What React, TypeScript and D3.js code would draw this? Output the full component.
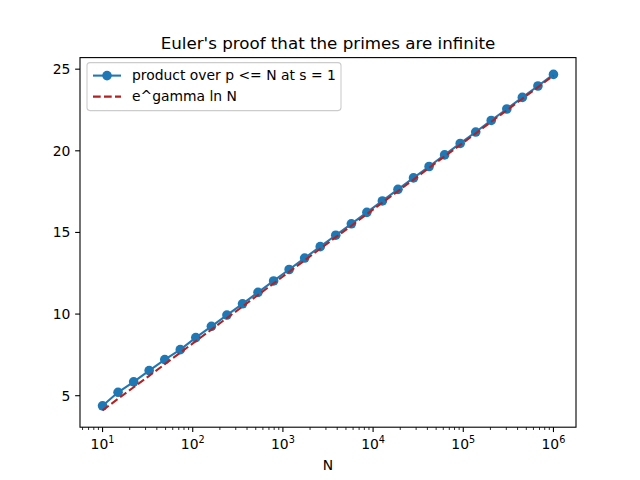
import { useEffect, useRef } from "react";
import * as d3 from "d3";

// N sampled geometrically from 10 to 10^6 (30 points)
const logN: number[] = [
  1.0, 1.172, 1.345, 1.517, 1.69, 1.862, 2.034, 2.207, 2.379, 2.552,
  2.724, 2.897, 3.069, 3.241, 3.414, 3.586, 3.759, 3.931, 4.103, 4.276,
  4.448, 4.621, 4.793, 4.966, 5.138, 5.31, 5.483, 5.655, 5.828, 6.0,
];
const productValues: number[] = [
  4.38, 5.21, 5.85, 6.54, 7.21, 7.82, 8.56, 9.25, 9.94, 10.63,
  11.33, 12.03, 12.73, 13.43, 14.13, 14.83, 15.53, 16.23, 16.93, 17.64,
  18.34, 19.04, 19.75, 20.45, 21.15, 21.86, 22.56, 23.27, 23.97, 24.68,
];
const mertensValues: number[] = [
  4.1, 4.81, 5.52, 6.22, 6.93, 7.64, 8.34, 9.05, 9.76, 10.46,
  11.17, 11.88, 12.59, 13.29, 14.0, 14.71, 15.41, 16.12, 16.83, 17.53,
  18.24, 18.95, 19.66, 20.36, 21.07, 21.78, 22.48, 23.19, 23.9, 24.61,
];
const yTicks: number[] = [5, 10, 15, 20, 25];
const xDecades: number[] = [1, 2, 3, 4, 5, 6];
const seriesLabels: string[] = ["product over p <= N at s = 1", "e^gamma ln N"];

const W = 640;
const H = 480;
const FONT = "DejaVu Sans, sans-serif";
const FS = 13.9;
const R = 4.8;

export default function App() {
  const svgRef = useRef<SVGSVGElement>(null);

  useEffect(() => {
    if (!svgRef.current) return;
    const svg = d3.select(svgRef.current);
    svg.selectAll("*").remove();

    const margin = { top: 57.6, right: 64, bottom: 52.8, left: 80 };
    const iw = W - margin.left - margin.right;
    const ih = H - margin.top - margin.bottom;

    const N = logN.map(l => Math.pow(10, l));
    const x = d3.scaleLog().domain([Math.pow(10, 0.75), Math.pow(10, 6.25)]).range([0, iw]);
    const allY = productValues.concat(mertensValues);
    const yMin = d3.min(allY)!;
    const yMax = d3.max(allY)!;
    const pad = (yMax - yMin) * 0.05;
    const y = d3.scaleLinear().domain([yMin - pad, yMax + pad]).range([ih, 0]);

    svg.append("rect").attr("width", W).attr("height", H).attr("fill", "white");

    const g = svg.append("g").attr("transform", `translate(${margin.left},${margin.top})`);

    // Lines
    const line = d3.line<number>().x((_, i) => x(N[i])).y(d => y(d));

    g.append("path")
      .datum(productValues)
      .attr("d", line)
      .attr("fill", "none")
      .attr("stroke", "#1f77b4")
      .attr("stroke-width", 2.08);

    g.selectAll(".pt")
      .data(productValues)
      .enter().append("circle")
      .attr("cx", (_, i) => x(N[i]))
      .attr("cy", d => y(d))
      .attr("r", R)
      .attr("fill", "#1f77b4");

    g.append("path")
      .datum(mertensValues)
      .attr("d", line)
      .attr("fill", "none")
      .attr("stroke", "#b22222")
      .attr("stroke-width", 2.08)
      .attr("stroke-dasharray", "7.7,3.3");

    // Frame
    g.append("rect")
      .attr("width", iw).attr("height", ih)
      .attr("fill", "none").attr("stroke", "black").attr("stroke-width", 1.1);

    // Y ticks
    yTicks.forEach(t => {
      g.append("line").attr("x1", -4.86).attr("x2", 0).attr("y1", y(t)).attr("y2", y(t))
        .attr("stroke", "black").attr("stroke-width", 1.1);
      g.append("text").attr("x", -9.7).attr("y", y(t)).attr("dy", "0.35em")
        .attr("text-anchor", "end").attr("font-size", FS).attr("font-family", FONT)
        .text(t);
    });

    // X major ticks
    xDecades.forEach(dcd => {
      const px = x(Math.pow(10, dcd));
      g.append("line").attr("x1", px).attr("x2", px).attr("y1", ih).attr("y2", ih + 4.86)
        .attr("stroke", "black").attr("stroke-width", 1.1);
      const t = g.append("text").attr("x", px).attr("y", ih + 22)
        .attr("text-anchor", "middle").attr("font-size", FS).attr("font-family", FONT);
      t.append("tspan").text("10");
      t.append("tspan").attr("dy", -6).attr("font-size", 9.7).text(dcd);
    });

    // X minor ticks
    const [d0, d1] = x.domain();
    for (let e = 0; e <= 6; e++) {
      for (let m = 2; m <= 9; m++) {
        const v = m * Math.pow(10, e);
        if (v < d0 || v > d1) continue;
        const px = x(v);
        g.append("line").attr("x1", px).attr("x2", px).attr("y1", ih).attr("y2", ih + 2.78)
          .attr("stroke", "black").attr("stroke-width", 0.83);
      }
    }

    // Labels
    svg.append("text").attr("x", margin.left + iw / 2).attr("y", margin.top - 8.3)
      .attr("text-anchor", "middle").attr("font-size", 16.7).attr("font-family", FONT)
      .text("Euler's proof that the primes are infinite");
    svg.append("text").attr("x", margin.left + iw / 2).attr("y", H - 10)
      .attr("text-anchor", "middle").attr("font-size", FS).attr("font-family", FONT)
      .text("N");

    // Legend
    const lg = g.append("g").attr("transform", "translate(7,5)");
    lg.append("rect").attr("width", 254).attr("height", 48).attr("rx", 3)
      .attr("fill", "white").attr("fill-opacity", 0.8)
      .attr("stroke", "#cccccc").attr("stroke-width", 1.1);
    seriesLabels.forEach((lab, i) => {
      const ly = 13 + i * 21;
      const ln = lg.append("line").attr("x1", 6).attr("x2", 34).attr("y1", ly).attr("y2", ly)
        .attr("stroke-width", 2.08)
        .attr("stroke", i === 0 ? "#1f77b4" : "#b22222");
      if (i === 0) {
        lg.append("circle").attr("cx", 20).attr("cy", ly).attr("r", R).attr("fill", "#1f77b4");
      } else {
        ln.attr("stroke-dasharray", "7.7,3.3");
      }
      lg.append("text").attr("x", 45).attr("y", ly).attr("dy", "0.35em")
        .attr("font-size", FS).attr("font-family", FONT).text(lab);
    });
  }, []);

  return <svg ref={svgRef} width={W} height={H} style={{ display: "block", margin: -8 }} />;
}
